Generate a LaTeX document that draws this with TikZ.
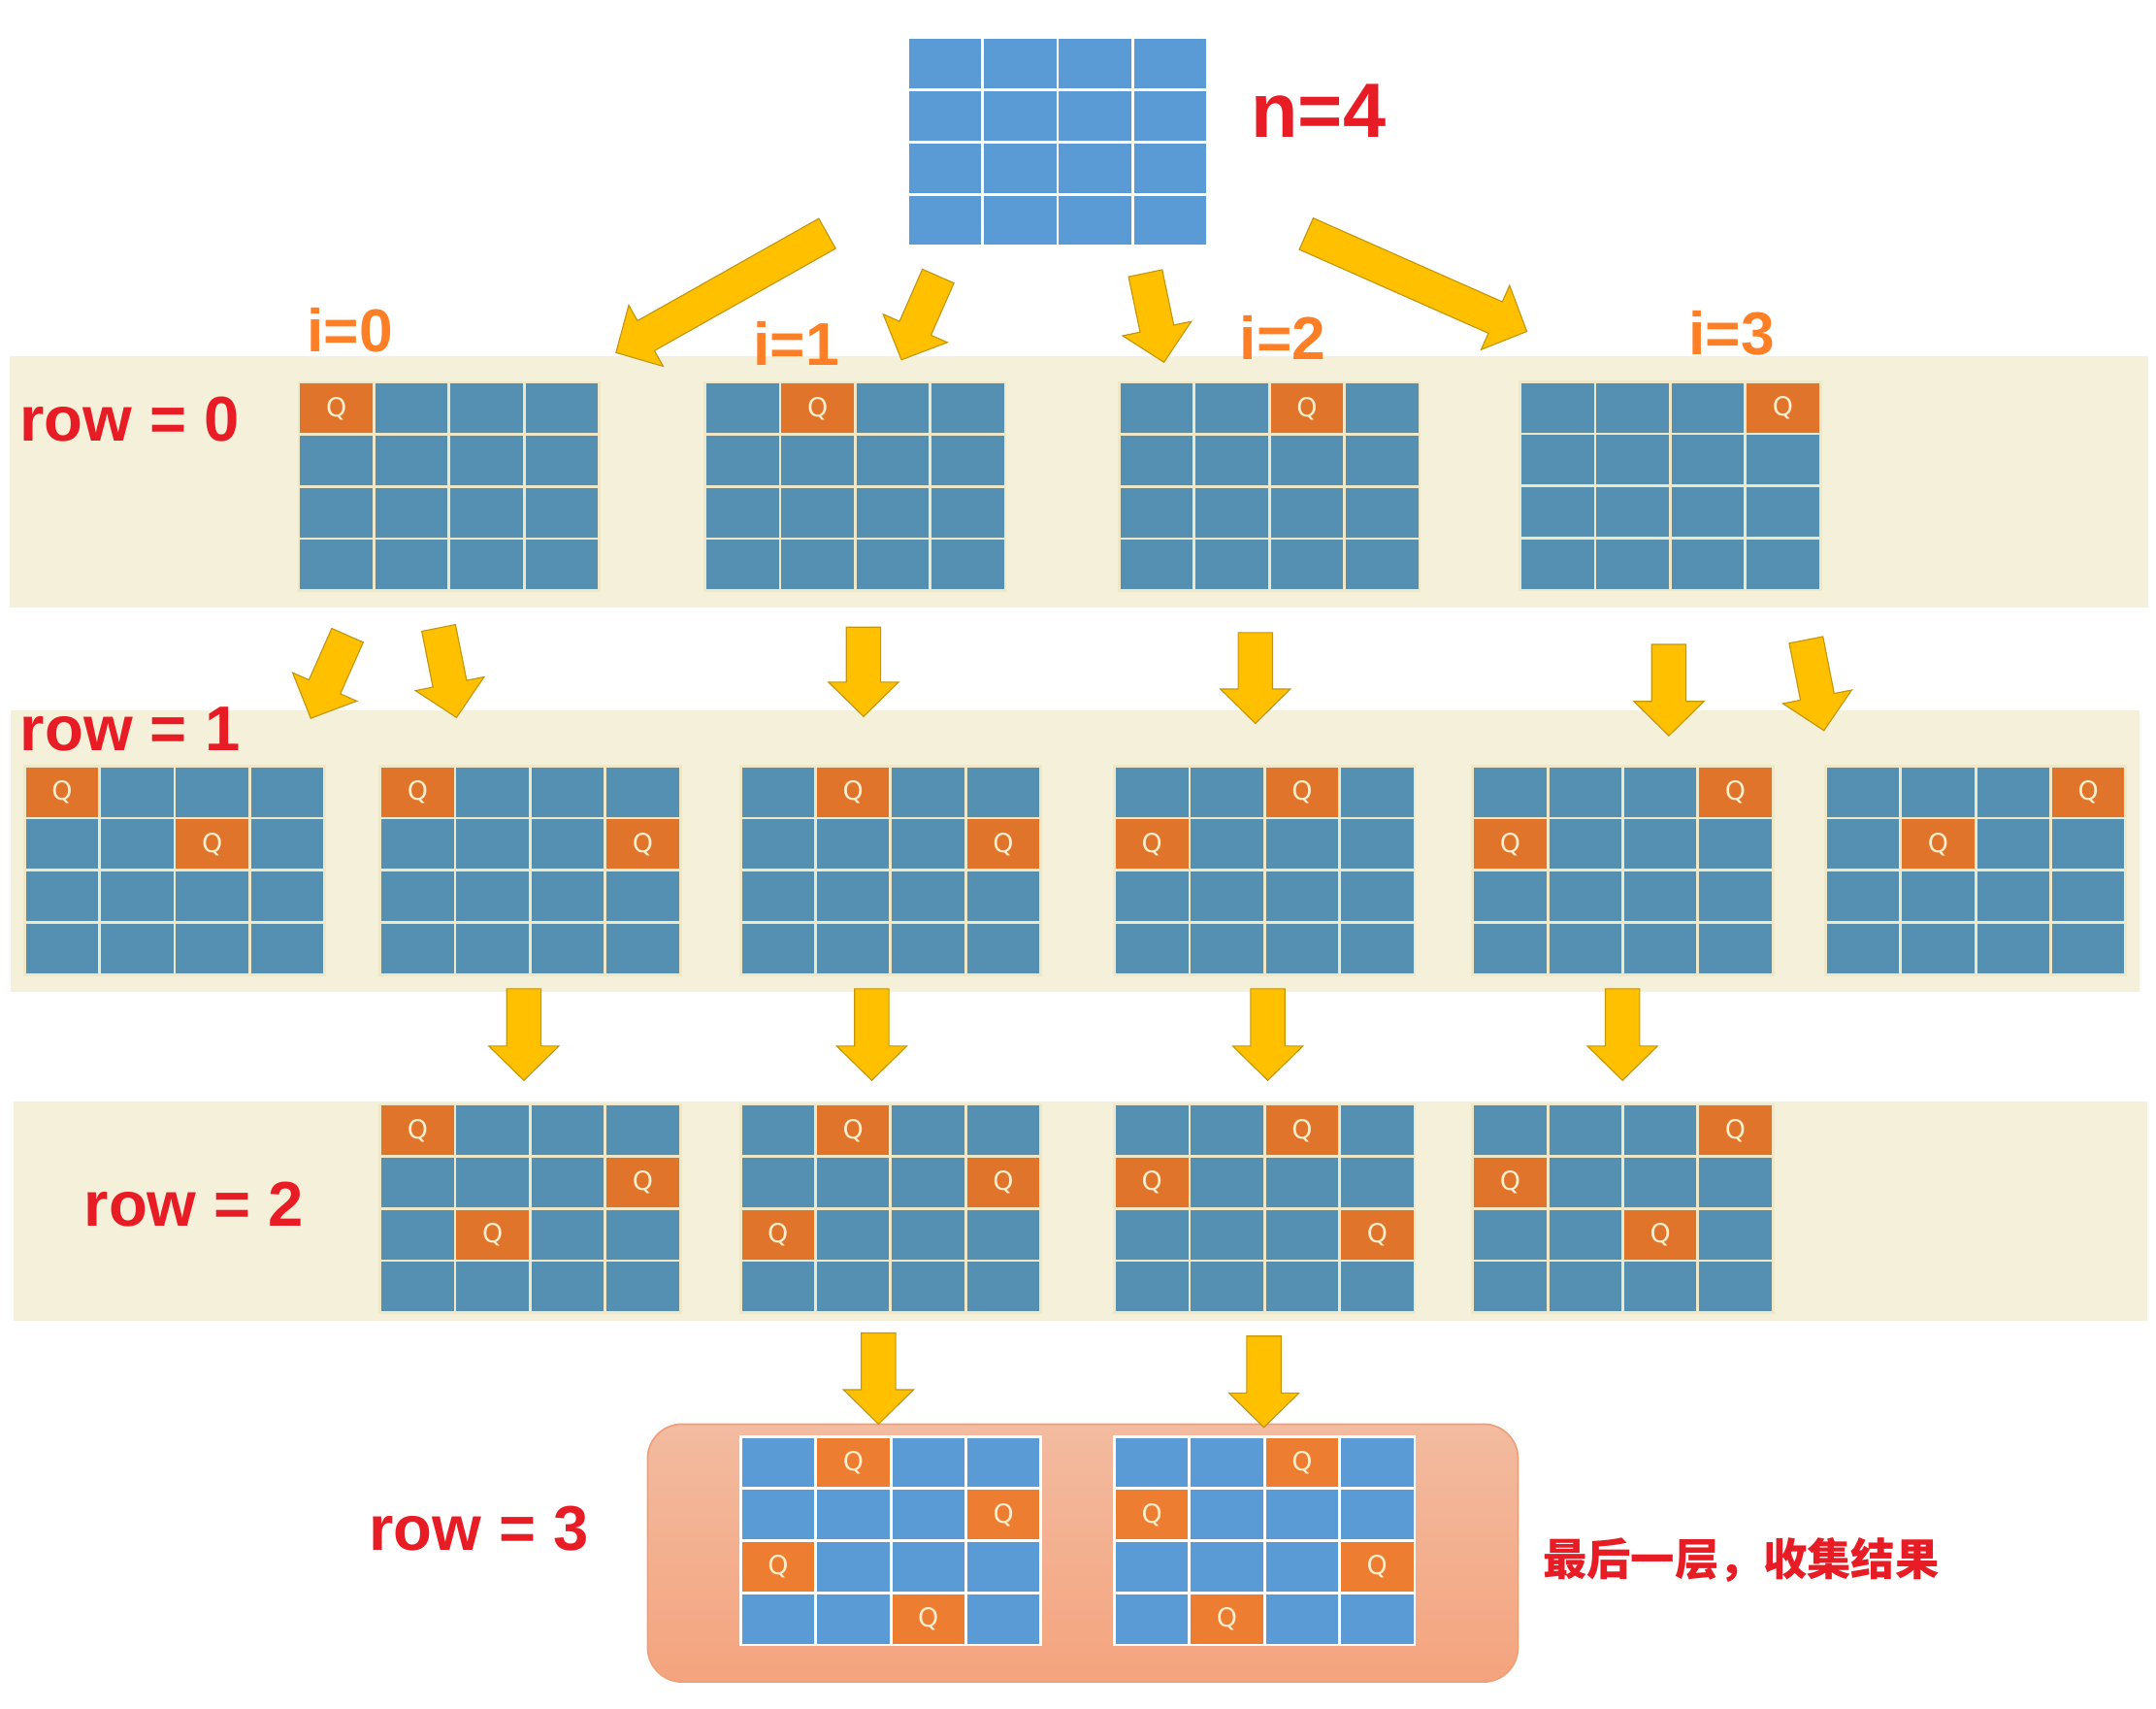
\documentclass[tikz,border=0pt]{standalone}
\usepackage{fontspec}
\setmainfont{Noto Sans CJK SC}
\newfontfamily\labelfont{Liberation Sans}
\newfontfamily\qfont{DejaVu Sans}
\usetikzlibrary{calc}

\definecolor{bandbg}{RGB}{245,240,217}
\definecolor{oldblue}{RGB}{85,144,178}
\definecolor{oldline}{RGB}{238,232,200}
\definecolor{oldq}{RGB}{224,116,42}
\definecolor{newblue}{RGB}{91,155,213}
\definecolor{newq}{RGB}{237,125,49}
\definecolor{qtext}{RGB}{250,238,205}
\definecolor{arrowfill}{RGB}{255,192,0}
\definecolor{arrowline}{RGB}{196,150,10}
\definecolor{labelred}{RGB}{232,28,36}
\definecolor{labelorange}{RGB}{255,127,39}
\definecolor{boxtop}{RGB}{243,187,160}
\definecolor{boxbottom}{RGB}{244,164,126}
\definecolor{boxline}{RGB}{238,160,120}

% 4x4 board without queens: name, left, top, old/new
\newcommand{\emptyboard}[4]{%
  \begin{scope}[shift={(#2,#3)}]
    \foreach \qr in {0,...,3}
      \foreach \qc in {0,...,3}
        \draw[#4 cell] (\qc*54.6,\qr*37.9) rectangle ++(54.6,37.9);
    \coordinate (#1) at (109.2,75.8);
  \end{scope}}
% board with queens: name, left, top, old/new, list row/col
\newcommand{\board}[5]{%
  \emptyboard{#1}{#2}{#3}{#4}
  \begin{scope}[shift={(#2,#3)}]
    \foreach \qr/\qc in {#5} {
      \draw[#4 queen] (\qc*54.6,\qr*37.9) rectangle ++(54.6,37.9);
      \node[qmark] (#1-q\qr\qc) at (\qc*54.6+27.3,\qr*37.9+19) {Q};
    }
  \end{scope}}
% yellow block arrow from tail to tip
\newcommand{\fatarrow}[2]{%
  \coordinate (hb) at ($(#2)!25pt!(#1)$);
  \draw[fat arrow] ($(#1)!12.5pt!90:(#2)$) -- ($(hb)!12.5pt!90:(#2)$)
    -- ($(hb)!25.5pt!90:(#2)$) -- (#2) -- ($(hb)!25.5pt!-90:(#2)$)
    -- ($(hb)!12.5pt!-90:(#2)$) -- ($(#1)!12.5pt!-90:(#2)$) -- cycle;}

\begin{document}
\begin{tikzpicture}[x=1pt,y=-1pt,
  old cell/.style={fill=oldblue,draw=oldline,line width=2pt},
  old queen/.style={fill=oldq,draw=oldline,line width=2pt},
  new cell/.style={fill=newblue,draw=white,line width=2pt},
  new queen/.style={fill=newq,draw=white,line width=2pt},
  qmark/.style={text=qtext,font=\qfont\fontsize{19}{19}\selectfont,inner sep=0},
  band/.style={fill=bandbg},
  fat arrow/.style={fill=arrowfill,draw=arrowline,line width=0.8pt},
  rowlabel/.style={text=labelred,font=\labelfont\bfseries\fontsize{46}{46}\selectfont,inner sep=0,anchor=base west},
  ilabel/.style={text=labelorange,font=\labelfont\bfseries\fontsize{44}{44}\selectfont,inner sep=0,anchor=base west}]
\useasboundingbox (0,0) rectangle (1568,1242);

% bands
\fill[band] (7,259) rectangle (1562,442);
\fill[band] (8,516.3) rectangle (1556,721);
\fill[band] (10,801) rectangle (1561.5,960.7);
\draw[top color=boxtop,bottom color=boxbottom,draw=boxline,line width=1.2pt,rounded corners=25pt]
  (471,1035.5) rectangle (1104,1223);

% boards
\emptyboard{start}{660}{27.5}{new}
\board{b0a}{217.4}{278}{old}{0/0}
\board{b0b}{512.7}{278}{old}{0/1}
\board{b0c}{814}{278}{old}{0/2}
\board{b0d}{1105.5}{277.5}{old}{0/3}
\board{b1a}{17.8}{557}{old}{0/0,1/2}
\board{b1b}{276.4}{557}{old}{0/0,1/3}
\board{b1c}{538.5}{557}{old}{0/1,1/3}
\board{b1d}{810.5}{557}{old}{0/2,1/0}
\board{b1e}{1071}{557}{old}{0/3,1/0}
\board{b1f}{1327.6}{557}{old}{0/3,1/1}
\board{b2a}{276.4}{803}{old}{0/0,1/3,2/1}
\board{b2b}{538.5}{803}{old}{0/1,1/3,2/0}
\board{b2c}{810.5}{803}{old}{0/2,1/0,2/3}
\board{b2d}{1071}{803}{old}{0/3,1/0,2/2}
\board{b3a}{538.7}{1044.5}{new}{0/1,1/3,2/0,3/2}
\board{b3b}{810.4}{1044.5}{new}{0/2,1/0,2/3,3/1}

% arrow ends
\coordinate (s0) at (601.6,169.8);  \coordinate (e0) at (448,256.4);
\coordinate (s1) at (682.3,200.8);  \coordinate (e1) at (655.6,261.6);
\coordinate (s2) at (833,198.7);    \coordinate (e2) at (846.5,263.4);
\coordinate (s3) at (950,170);      \coordinate (e3) at (1110.4,241);
\coordinate (s4) at (252.7,462);    \coordinate (e4) at (226,522.3);
\coordinate (s5) at (319,456.6);    \coordinate (e5) at (332,521.7);
\coordinate (s6) at (628,456);      \coordinate (e6) at (628,521);
\coordinate (s7) at (913,460);      \coordinate (e7) at (913,526);
\coordinate (s8) at (1213.7,468.6); \coordinate (e8) at (1213.7,535);
\coordinate (s9) at (1313.5,465.3); \coordinate (e9) at (1326.5,531.2);
\coordinate (s10) at (381,719);     \coordinate (e10) at (381,785.6);
\coordinate (s11) at (634,719);     \coordinate (e11) at (634,785.6);
\coordinate (s12) at (922,719);     \coordinate (e12) at (922,785.6);
\coordinate (s13) at (1180,719);    \coordinate (e13) at (1180,785.6);
\coordinate (s14) at (638.9,969.2); \coordinate (e14) at (638.9,1035.5);
\coordinate (s15) at (919.2,971.5); \coordinate (e15) at (919.2,1037.9);
\foreach \k in {0,...,15} {\fatarrow{s\k}{e\k}}

% labels
\node[rowlabel,font=\labelfont\bfseries\fontsize{56}{56}\selectfont] (nlabel) at (909.7,100) {n=4};
\node[ilabel] (i0) at (223,256) {i=0};
\node[ilabel] (i1) at (547.6,265.8) {i=1};
\node[ilabel] (i2) at (901.6,261.6) {i=2};
\node[ilabel] (i3) at (1228,257.6) {i=3};
\node[rowlabel] (row0) at (14.2,320.4) {row = 0};
\node[rowlabel] (row1) at (14.6,545.6) {row = 1};
\node[rowlabel] (row2) at (61,891.5) {row = 2};
\node[rowlabel] (row3) at (268,1127) {row = 3};
\node[text=labelred,font=\fontsize{32}{32}\selectfont\bfseries,inner sep=0,anchor=west]
  (result) at (1122,1134.5) {最后一层，收集结果};
\end{tikzpicture}
\end{document}
